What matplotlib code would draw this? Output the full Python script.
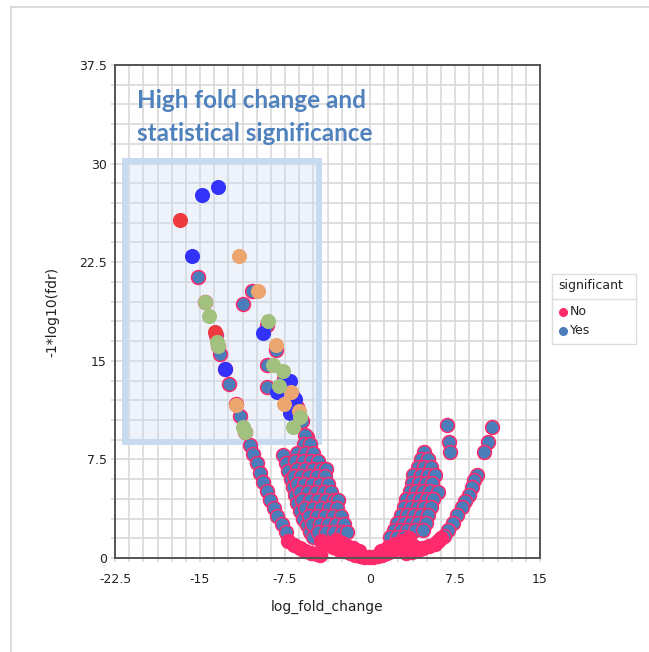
import matplotlib
matplotlib.use("Agg")
import matplotlib.pyplot as plt
from matplotlib.patches import Rectangle
from matplotlib.lines import Line2D
from matplotlib.ticker import MultipleLocator

# ---------------- data ----------------
x_ticks = [-22.5, -15, -7.5, 0, 7.5, 15]
y_ticks = [0, 7.5, 15, 22.5, 30, 37.5]

# significant genes ("Yes"), grouped by branch of the volcano
yes_x = [
    # outer left branch
    -15.2, -14.6, -13.6, -13.4, -13.2, -12.8, -12.4, -11.8, -11.5, -11.0,
    -10.6, -10.3, -10.0, -9.7, -9.4, -9.1, -8.8, -8.5, -8.2, -7.8, -7.4,
    # second left branch (upper part)
    -10.4, -11.2, -9.1, -9.1, -9.1, -8.3, -7.6, -6.9, -6.4, -6.0, -5.6, -5.4,
    # second left branch (lower part)
    -7.65, -7.4, -7.2, -7.0, -6.8, -6.6, -6.4, -6.2, -5.9, -5.6, -5.3, -5.0,
    # inner left cluster
    -5.7, -5.8, -5.3, -6.4, -5.7, -5.0, -6.6, -5.9, -5.2, -4.6,
    -6.4, -5.7, -5.0, -4.3, -3.9, -6.7, -6.1, -5.4, -4.7, -4.0,
    -6.4, -5.8, -5.1, -4.4, -3.7, -6.2, -5.5, -4.8, -4.1, -3.4,
    -6.0, -5.3, -4.6, -3.9, -3.2, -2.8, -5.7, -5.0, -4.3, -3.6, -2.9,
    -5.4, -4.7, -4.0, -3.3, -2.6, -5.1, -4.4, -3.7, -3.0, -2.3,
    -4.6, -3.9, -3.2, -2.5, -2.0,
    # inner right cluster
    4.8, 4.5, 5.1, 4.2, 4.8, 5.4, 3.8, 4.5, 5.1, 5.7,
    3.7, 4.3, 4.9, 5.5, 3.5, 4.1, 4.7, 5.3, 6.0, 3.2, 3.8, 4.4, 5.0, 5.6,
    3.0, 3.6, 4.2, 4.8, 5.4, 2.7, 3.3, 3.9, 4.5, 5.1,
    2.4, 3.0, 3.6, 4.2, 4.9, 2.1, 2.7, 3.3, 4.0, 4.7, 1.8, 2.4, 3.0,
    # isolated right points
    6.8, 7.0, 7.1, 10.8, 10.4, 10.1,
    # outer right branch
    9.4, 9.2, 9.0, 8.7, 8.4, 8.1, 7.7, 7.3, 6.9, 6.5,
]
yes_y = [
    21.4, 19.5, 17.0, 16.1, 15.5, 14.4, 13.2, 11.7, 10.8, 9.6,
    8.6, 7.9, 7.2, 6.5, 5.8, 5.1, 4.4, 3.8, 3.2, 2.6, 2.0,
    20.3, 19.3, 17.7, 14.7, 13.0, 15.8, 13.6, 12.4, 11.5, 10.4, 9.2, 8.7,
    7.8, 7.2, 6.6, 6.0, 5.4, 4.8, 4.2, 3.6, 3.0, 2.5, 2.0, 1.6,
    9.35, 8.7, 8.7, 8.0, 8.0, 8.0, 7.4, 7.4, 7.4, 7.4,
    6.8, 6.8, 6.8, 6.8, 6.8, 6.2, 6.2, 6.2, 6.2, 6.2,
    5.6, 5.6, 5.6, 5.6, 5.6, 5.0, 5.0, 5.0, 5.0, 5.0,
    4.4, 4.4, 4.4, 4.4, 4.4, 4.4, 3.8, 3.8, 3.8, 3.8, 3.8,
    3.2, 3.2, 3.2, 3.2, 3.2, 2.6, 2.6, 2.6, 2.6, 2.6,
    2.0, 2.0, 2.0, 2.0, 2.0,
    8.1, 7.5, 7.5, 6.9, 6.9, 6.9, 6.3, 6.3, 6.3, 6.3,
    5.7, 5.7, 5.7, 5.7, 5.1, 5.1, 5.1, 5.1, 5.0, 4.5, 4.5, 4.5, 4.5, 4.5,
    3.9, 3.9, 3.9, 3.9, 3.9, 3.3, 3.3, 3.3, 3.3, 3.3,
    2.7, 2.7, 2.7, 2.7, 2.7, 2.1, 2.1, 2.1, 2.1, 2.1, 1.6, 1.6, 1.6,
    10.1, 8.8, 8.1, 10.0, 8.8, 8.1,
    6.3, 5.9, 5.4, 4.8, 4.3, 3.9, 3.3, 2.7, 2.1, 1.7,
]

# non-significant genes ("No")
no_x = [-7.2, -6.7, -6.2, -5.7, -5.2, -4.7, -4.4,
        -4.3, -3.8, -3.3, -2.8, -2.3, -1.8, -1.3, -0.9, -0.5, -0.1,
        0.3, 0.7, 1.1, 1.5, 1.9, 2.3, 2.7, 3.1, 3.5, 4.0,
        -3.0, -2.5, -2.0, -1.5, -1.0, 1.0, 1.6, 2.2, 2.8, 3.4,
        3.2, 3.7, 4.2, 4.7, 5.2, 5.7, 6.0, 6.3]
no_y = [1.3, 1.0, 0.75, 0.55, 0.4, 0.3, 0.25,
        1.3, 1.05, 0.85, 0.65, 0.5, 0.35, 0.25, 0.15, 0.1, 0.1,
        0.1, 0.15, 0.25, 0.35, 0.5, 0.65, 0.8, 1.0, 1.15, 0.8,
        1.35, 1.15, 0.95, 0.75, 0.55, 0.55, 0.8, 1.05, 1.3, 1.5,
        0.35, 0.45, 0.6, 0.75, 0.9, 1.1, 1.3, 1.5]

blue_x = [-13.4, -14.8, -15.7, -12.8, -9.4, -7.1, -8.2, -6.6, -7.1]
blue_y = [28.2, 27.6, 23.0, 14.4, 17.1, 13.5, 12.6, 12.1, 11.0]
red_x = [-16.8, -13.7]
red_y = [25.7, 17.2]
orange_x = [-11.6, -9.9, -8.3, -11.8, -7.0, -7.6, -6.3]
orange_y = [23.0, 20.3, 16.2, 11.6, 12.65, 11.7, 11.2]
green_x = [-14.6, -14.2, -13.5, -13.4, -11.2, -11.0, -9.0, -8.6, -7.7, -8.0, -6.2, -6.8]
green_y = [19.5, 18.4, 16.4, 16.1, 10.0, 9.6, 18.0, 14.7, 14.2, 13.1, 10.7, 10.0]

box_x = [-21.6, -4.5]
box_y = [8.85, 30.2]
legend_title = "significant"
legend_labels = ["No", "Yes"]
annotation = ["High fold change and", "statistical significance"]

# ---------------- style ----------------
PINK = "#fe2a6c"
STEEL = "#4a7db9"
BLUE = "#3232fb"
RED = "#ee3a3e"
ORANGE = "#eba56f"
GREEN = "#a2c17f"
GRID = "#d9d9d9"

W, H = 649, 652
fig = plt.figure(figsize=(W / 100, H / 100), dpi=100)

# outer frame lines of the screenshot
fig.add_artist(Line2D([11 / W, 1], [1 - 7 / H, 1 - 7 / H], color="#d4d4d4", lw=1.2))
fig.add_artist(Line2D([11 / W, 11 / W], [0, 1 - 7 / H], color="#d4d4d4", lw=1.2))

ax = fig.add_axes([115 / W, (H - 558) / H, (540 - 115) / W, (558 - 65) / H])
ax.set_xlim(-22.5, 15)
ax.set_ylim(0, 37.5)
ax.set_xticks(x_ticks)
ax.set_yticks(y_ticks)
ax.set_xticklabels([f"{t:g}" for t in x_ticks])
ax.set_yticklabels([f"{t:g}" for t in y_ticks])
ax.xaxis.set_minor_locator(MultipleLocator(1.25))
ax.yaxis.set_minor_locator(MultipleLocator(1.5))
ax.grid(which="both", color=GRID, lw=1.2, zorder=0)
ax.set_axisbelow(True)
ax.tick_params(which="both", length=3, color=GRID, width=1.2, labelsize=9, pad=3,
               labelcolor="#222222")
ax.tick_params(axis="x", which="major", pad=8)
for s in ax.spines.values():
    s.set_color("#555555")
    s.set_linewidth(1.4)
    s.set_zorder(10)

ax.set_xlabel("log_fold_change", fontsize=10, labelpad=10, color="#222222")
ax.set_ylabel("-1*log10(fdr)", fontsize=10, labelpad=14, color="#222222")

# highlight box
rect = Rectangle((box_x[0], box_y[0]), box_x[1] - box_x[0], box_y[1] - box_y[0],
                 facecolor=(0.78, 0.85, 0.95, 0.30), edgecolor="#c8daef", lw=4.3,
                 zorder=1)
ax.add_patch(rect)
for line, yb in zip(annotation, [34.2, 31.7]):
    ax.text(-20.6, yb, line, fontsize=17.5, fontweight="bold", color="#4f81bd",
            family="Lato", va="baseline", ha="left", zorder=2)

ms = 100
ax.scatter(yes_x, yes_y, s=ms, c=STEEL, edgecolors=PINK, linewidths=1.1,
           zorder=3, clip_on=False)
ax.scatter(no_x, no_y, s=ms, c=PINK, edgecolors=PINK, linewidths=1.1,
           zorder=4, clip_on=False)

hs = 118
ax.scatter(blue_x, blue_y, s=hs, c=BLUE, linewidths=0, zorder=6)
ax.scatter(red_x, red_y, s=hs, c=RED, linewidths=0, zorder=6)
ax.scatter(orange_x, orange_y, s=hs, c=ORANGE, linewidths=0, zorder=6)
ax.scatter(green_x, green_y, s=hs, c=GREEN, linewidths=0, zorder=6)

# legend drawn as a small box
lx0, lx1, ly0, ly1 = 552 / W, 636 / W, 1 - 344 / H, 1 - 274 / H
fig.add_artist(Rectangle((lx0, ly0), lx1 - lx0, ly1 - ly0, transform=fig.transFigure,
                         facecolor="white", edgecolor="#dddddd", lw=1))
fig.add_artist(Line2D([lx0, lx1], [1 - 299 / H, 1 - 299 / H], color="#dddddd", lw=1))
fig.text(558 / W, 1 - 286 / H, legend_title, fontsize=9, va="center", ha="left",
         color="#222222")
for lab, col, yy in zip(legend_labels, [PINK, STEEL], [311.5, 330.5]):
    fig.add_artist(Line2D([562.5 / W], [1 - yy / H], marker="o", ms=5.5, color=col,
                          mec=col, lw=0))
    fig.text(570 / W, 1 - yy / H, lab, fontsize=9, va="center", ha="left",
             color="#222222")

fig.savefig("out.png", dpi=100)
